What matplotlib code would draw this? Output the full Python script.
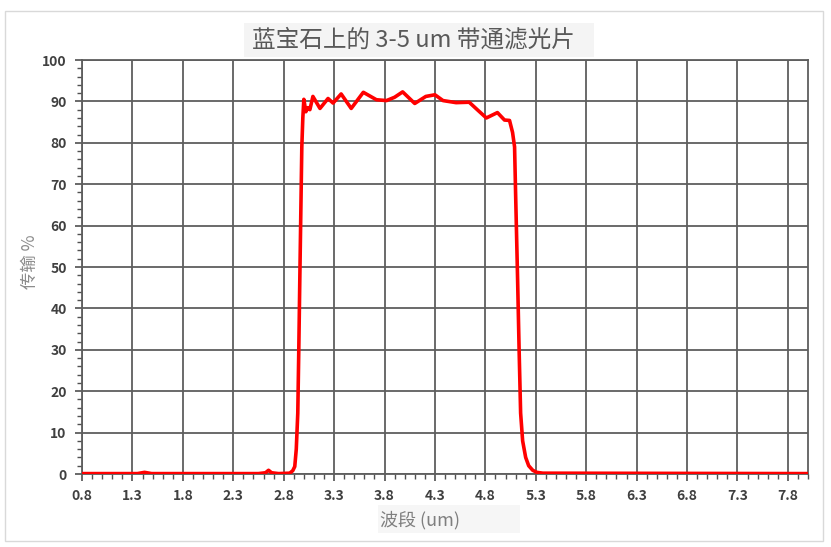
import matplotlib
matplotlib.use("Agg")
import matplotlib.pyplot as plt
from matplotlib.patches import Rectangle
from matplotlib.ticker import MultipleLocator, FixedLocator

plt.rcParams['font.family'] = ['Noto Sans CJK SC', 'DejaVu Sans']

title = "蓝宝石上的 3-5 um 带通滤光片"
xlabel = "波段 (um)"
ylabel = "传输 %"

wavelength = [0.8, 1.35, 1.42, 1.49, 2.55, 2.62, 2.65, 2.68, 2.75, 2.86, 2.89, 2.91,
              2.925, 2.94, 2.95, 2.96, 2.97, 2.98, 2.99, 3.0, 3.02, 3.04, 3.06, 3.09,
              3.16, 3.24, 3.29, 3.37, 3.47, 3.59, 3.72, 3.82, 3.9, 3.98, 4.10, 4.21,
              4.30, 4.38, 4.51, 4.64, 4.72, 4.81, 4.92, 4.99, 5.04, 5.07, 5.09, 5.10,
              5.12, 5.135, 5.15, 5.17, 5.20, 5.23, 5.27, 5.31, 5.37, 8.0]
transmission = [0.1, 0.1, 0.4, 0.1, 0.1, 0.3, 0.9, 0.3, 0.1, 0.2, 0.8, 1.8,
                6.0, 14.7, 30.0, 46.9, 63.0, 79.0, 86.0, 90.5, 87.5, 88.5, 88.0, 91.2,
                88.3, 90.7, 89.6, 91.8, 88.3, 92.2, 90.4, 90.2, 91.0, 92.3, 89.5, 91.2,
                91.6, 90.2, 89.7, 89.8, 88.0, 86.0, 87.3, 85.5, 85.4, 82.5, 79.0, 68.0,
                47.0, 30.0, 14.7, 8.0, 4.0, 2.0, 0.9, 0.4, 0.2, 0.1]

x_ticks = [0.8, 1.3, 1.8, 2.3, 2.8, 3.3, 3.8, 4.3, 4.8, 5.3, 5.8, 6.3, 6.8, 7.3, 7.8]
y_ticks = [0, 10, 20, 30, 40, 50, 60, 70, 80, 90, 100]

W, H = 831, 547
fig = plt.figure(figsize=(W / 100, H / 100), dpi=100)
fig.patch.set_facecolor('white')

# outer border
fig.patches.append(Rectangle((5 / W, 1 - 541 / H), 818 / W, 530 / H,
                             transform=fig.transFigure, fill=False,
                             edgecolor='#d9d9d9', linewidth=1.0))

ax = fig.add_axes([82 / W, 1 - 474 / H, (808 - 82) / W, (474 - 60) / H])
ax.plot(wavelength, transmission, color='#ff0000', linewidth=2.6,
        solid_joinstyle='round', solid_capstyle='round', zorder=3)

ax.set_xlim(0.8, 8.0)
ax.set_ylim(0, 100)
ax.xaxis.set_major_locator(FixedLocator(x_ticks))
ax.set_xticks([0.8 + 0.1 * i for i in range(73)], minor=True)
ax.yaxis.set_major_locator(FixedLocator(y_ticks))
ax.yaxis.set_minor_locator(MultipleLocator(2))
ax.set_xticklabels([f"{v:.1f}" for v in x_ticks])
ax.set_yticklabels([str(v) for v in y_ticks])

gridc = '#5e5e5e'
ax.grid(True, which='major', color=gridc, linewidth=1.3)
ax.set_axisbelow(True)
for s in ax.spines.values():
    s.set_color(gridc)
    s.set_linewidth(1.3)

ax.tick_params(axis='both', which='major', direction='out', length=5, width=1.2,
               color='#505050', labelsize=10, labelcolor='#404040', pad=6)
ax.tick_params(axis='both', which='minor', direction='out', length=3.5, width=1.0,
               color='#505050')
for lab in ax.get_xticklabels() + ax.get_yticklabels():
    lab.set_fontweight('bold')

# title with light background
fig.patches.append(Rectangle((244 / W, 1 - 57 / H), (594 - 244) / W, 34 / H,
                             transform=fig.transFigure, facecolor='#f4f4f4',
                             edgecolor='none'))
fig.text(413 / W, 1 - 40 / H, title, ha='center', va='center', fontsize=17,
         color='#595959')

# x label
fig.patches.append(Rectangle((378 / W, 1 - 533 / H), (520 - 378) / W, 28 / H,
                             transform=fig.transFigure, facecolor='#f6f6f6',
                             edgecolor='none'))
fig.text(380 / W, 1 - 520 / H, xlabel, ha='left', va='center', fontsize=13,
         color='#7f7f7f')

# y label
fig.text(30 / W, 1 - 262 / H, ylabel, ha='center', va='center', rotation=90,
         fontsize=12.5, color='#8c8c8c')

fig.savefig('out.png', dpi=100)
